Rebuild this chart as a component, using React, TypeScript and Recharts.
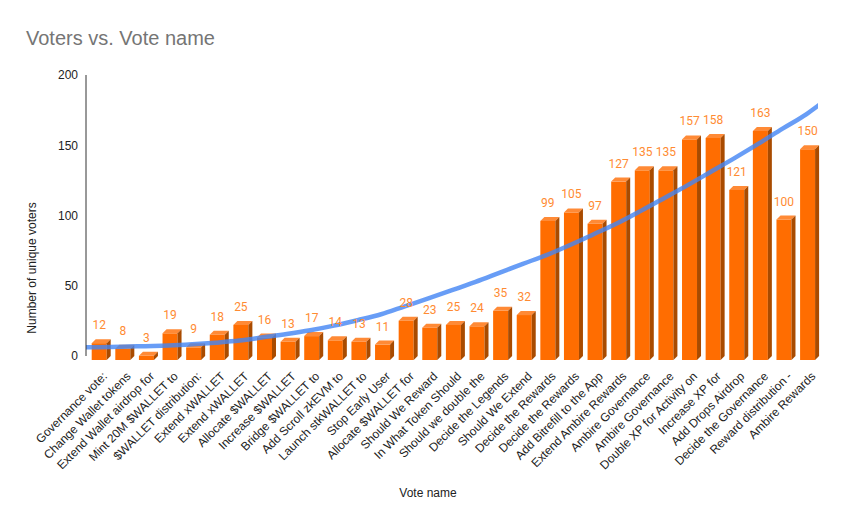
import { Bar, ComposedChart, LabelList, Line, XAxis, YAxis } from "recharts";

const voteNames = [
  "Governance vote:",
  "Change Wallet tokens",
  "Extend Wallet airdrop for",
  "Mint 20M $WALLET to",
  "$WALLET distribution:",
  "Extend xWALLET",
  "Extend xWALLET",
  "Allocate $WALLET",
  "Increase $WALLET",
  "Bridge $WALLET to",
  "Add Scroll zkEVM to",
  "Launch stkWALLET to",
  "Stop Early User",
  "Allocate $WALLET for",
  "Should We Reward",
  "In What Token Should",
  "Should we double the",
  "Decide the Legends",
  "Should We Extend",
  "Decide the Rewards",
  "Decide the Rewards",
  "Add Bitrefill to the App",
  "Extend Ambire Rewards",
  "Ambire Governance",
  "Ambire Governance",
  "Double XP for Activity on",
  "Increase XP for",
  "Add Drops Airdrop",
  "Decide the Governance",
  "Reward distribution -",
  "Ambire Rewards",
];

const voterCounts = [
  12, 8, 3, 19, 9, 18, 25, 16, 13, 17, 14, 13, 11, 28, 23, 25, 24, 35, 32, 99, 105, 97, 127, 135, 135, 157,
  158, 121, 163, 100, 150,
];

// trendline at each category, plus where it starts and ends
const trendValues = [
  6.3, 6.6, 7.0, 7.4, 8.3, 9.5, 11.0, 13.3, 15.6, 18.3, 21.6, 25.5, 29.7, 35.4, 41, 46.8, 52.8, 59.2, 65.6,
  71.8, 79, 86.7, 94.5, 103.3, 112.5, 121.8, 131.5, 141.2, 151.3, 161.8, 172,
];
const trendStart = { pos: 0, value: 6.2 };
const trendEnd = { pos: 31.15, value: 180 };

const yTicks = [0, 50, 100, 150, 200];

const rows = voteNames.map((name, i) => ({ name, voters: voterCounts[i] }));
const trendRows = [
  trendStart,
  ...trendValues.map((value, i) => ({ pos: i + 0.5, value })),
  trendEnd,
];

const FONT = "'Liberation Sans', Arial, sans-serif";
const DEPTH = 4;
const SHIFT = 1.7;

function Bar3D(props: any) {
  const { x, y, width, height } = props;
  if (x == null || y == null || !height) return null;
  const fx = x + SHIFT;
  const fy = y + DEPTH;
  const w = width;
  const h = height;
  return (
    <g>
      <rect x={fx} y={fy} width={w} height={h} fill="#ff6d01" />
      <polygon
        points={`${fx},${fy} ${fx + DEPTH},${y} ${fx + w + DEPTH},${y} ${fx + w},${fy}`}
        fill="#ff8a36"
      />
      <polygon
        points={`${fx + w},${fy} ${fx + w + DEPTH},${y} ${fx + w + DEPTH},${y + h} ${fx + w},${fy + h}`}
        fill="#a94b00"
      />
    </g>
  );
}

function VoterLabel(props: any) {
  const { x, y, width, value } = props;
  return (
    <text
      x={x + width / 2 + SHIFT}
      y={y - 10}
      textAnchor="middle"
      fontSize={12}
      fontFamily="Roboto, sans-serif"
      fill="#ff8b32"
    >
      {value}
    </text>
  );
}

function VoteTick(props: any) {
  const { x, y, payload } = props;
  const ax = x + 7;
  const ay = y + 10;
  return (
    <text
      x={ax}
      y={ay}
      dy="0.35em"
      textAnchor="end"
      transform={`rotate(-45, ${ax}, ${ay})`}
      fontSize={12}
      fontFamily={FONT}
      fill="#222"
    >
      {payload.value}
    </text>
  );
}

export default function App() {
  return (
    <div style={{ position: "relative", width: 851, height: 527, background: "#fff" }}>
      <style>{"body{margin:0}"}</style>
      <ComposedChart width={851} height={527} data={rows} margin={{ top: 75, right: 33, bottom: 0, left: 0 }}>
        <XAxis
          dataKey="name"
          interval={0}
          height={171}
          axisLine={false}
          tickLine={false}
          tick={<VoteTick />}
        />
        <XAxis xAxisId="trend" type="number" dataKey="pos" domain={[0, 31]} allowDataOverflow hide />
        <YAxis
          width={86}
          domain={[0, 200]}
          ticks={yTicks}
          tickLine={false}
          axisLine={{ stroke: "#333" }}
          tick={{ fill: "#222", fontSize: 12, fontFamily: FONT }}
        />
        <Bar dataKey="voters" barSize={15} shape={<Bar3D />} isAnimationActive={false}>
          <LabelList dataKey="voters" content={<VoterLabel />} />
        </Bar>
        <Line
          xAxisId="trend"
          data={trendRows}
          dataKey="value"
          type="monotone"
          stroke="#4285f4"
          strokeOpacity={0.8}
          strokeWidth={4.5}
          dot={false}
          activeDot={false}
          isAnimationActive={false}
        />
      </ComposedChart>
      <svg
        width={851}
        height={527}
        style={{ position: "absolute", left: 0, top: 0, pointerEvents: "none" }}
      >
        <text x={26} y={45} fontSize={20} fontFamily={FONT} fill="#757575">
          Voters vs. Vote name
        </text>
        <text
          x={0}
          y={0}
          transform="translate(36, 268) rotate(-90)"
          textAnchor="middle"
          fontSize={12}
          fontFamily={FONT}
          fill="#222"
        >
          Number of unique voters
        </text>
        <text x={428} y={497} textAnchor="middle" fontSize={12} fontFamily={FONT} fill="#222">
          Vote name
        </text>
      </svg>
    </div>
  );
}
